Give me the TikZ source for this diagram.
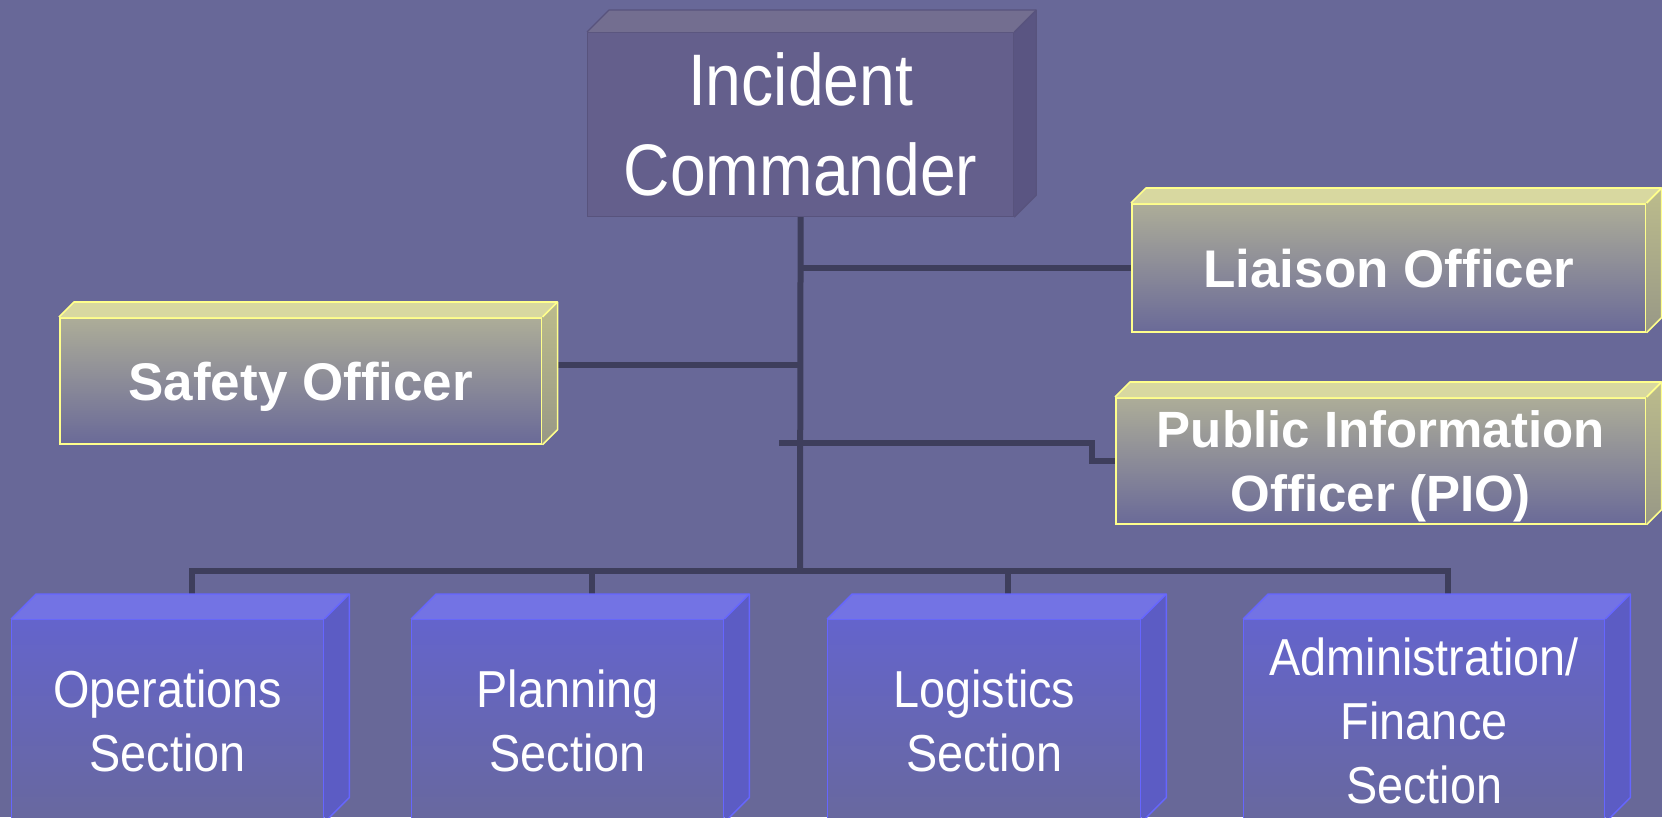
\documentclass[tikz,border=0pt]{standalone}
\usepackage{fontspec}
\setmainfont{Liberation Sans}
\newfontfamily\narrowfont[FakeStretch=0.88]{Liberation Sans}
\newfontfamily\secfont[FakeStretch=0.9]{Liberation Sans}
\pgfdeclarelayer{back}
\pgfdeclarelayer{lines}
\pgfsetlayers{back,lines,main}
\definecolor{bgc}{RGB}{104,104,152}
\definecolor{linec}{RGB}{62,62,92}
\definecolor{icfront}{RGB}{100,95,140}
\definecolor{ictop}{RGB}{115,110,144}
\definecolor{icside}{RGB}{90,85,130}
\definecolor{icborder}{RGB}{88,83,125}
\definecolor{yfronttop}{RGB}{173,173,152}
\definecolor{yfrontbot}{RGB}{106,106,152}
\definecolor{ytop}{RGB}{216,216,160}
\definecolor{ysidetop}{RGB}{188,188,140}
\definecolor{ysidebot}{RGB}{152,152,134}
\definecolor{yborder}{RGB}{255,255,140}
\definecolor{bfronttop}{RGB}{100,100,204}
\definecolor{bfrontbot}{RGB}{104,104,158}
\definecolor{btop}{RGB}{115,115,228}
\definecolor{bside}{RGB}{92,92,196}
\definecolor{bborder}{RGB}{102,102,255}
\tikzset{
  icbox/.style={rectangle, anchor=north west, inner sep=0pt, fill=icfront, draw=icborder, line width=1.2pt,
     text=white, align=center, font=\narrowfont\fontsize{73}{90}\selectfont},
  offbox/.style={rectangle, anchor=north west, inner sep=0pt, top color=yfronttop, bottom color=yfrontbot,
     draw=yborder, line width=1.6pt, text=white, align=center, text depth=0pt, font=\bfseries\fontsize{53}{62}\selectfont},
  secbox/.style={rectangle, anchor=north west, inner sep=0pt, top color=bfronttop, bottom color=bfrontbot,
     draw=bborder, line width=1.4pt, text=white, align=center, font=\secfont\fontsize{52}{64}\selectfont},
  conn/.style={draw=linec, line width=6pt},
}
% #1 node name, #2 depth (px), #3 top colour, #4 side top colour, #5 side bottom colour, #6 border colour, #7 border width
\newcommand\boxfaces[7]{%
  \fill[#3] (#1.north west) -- ++(#2,-#2) -- ([shift={(#2,-#2)}]#1.north east) -- (#1.north east) -- cycle;
  \shade[top color=#4, bottom color=#5] (#1.north east) -- ++(#2,-#2) -- ([shift={(#2,-#2)}]#1.south east) -- (#1.south east) -- cycle;
  \draw[#6, line width=#7, line join=round] (#1.north west) -- ++(#2,-#2) -- ([shift={(#2,-#2)}]#1.north east)
     -- ([shift={(#2,-#2)}]#1.south east) -- (#1.south east);
  \draw[#6, line width=#7] (#1.north east) -- ++(#2,-#2);
}
\begin{document}
\begin{tikzpicture}[x=1pt,y=-1pt]
\useasboundingbox (0,0) rectangle (1662,817);
\begin{pgfonlayer}{back}
\fill[bgc] (0,0) rectangle (1662,817);
\end{pgfonlayer}

% nodes
\node[icbox, minimum width=426pt, minimum height=184pt] (ic) at (587,32) {Incident\\Commander};
\node[offbox, minimum width=482pt, minimum height=126pt] (safety) at (59,317) {Safety Officer};
\node[offbox, minimum width=514pt, minimum height=128pt] (liaison) at (1131,203) {Liaison Officer};
\node[offbox, minimum width=530pt, minimum height=126pt, font=\bfseries\fontsize{51}{64}\selectfont] (pio) at (1115,397) {Public Information\\Officer (PIO)};
\node[secbox, minimum width=312pt, minimum height=202pt] (ops) at (11,619) {Operations\\Section};
\node[secbox, minimum width=312pt, minimum height=202pt] (plan) at (411,619) {Planning\\Section};
\node[secbox, minimum width=313pt, minimum height=202pt] (log) at (827,619) {Logistics\\Section};
\node[secbox, minimum width=361pt, minimum height=202pt] (admin) at (1243,619) {Administration/\\Finance\\Section};

\boxfaces{ic}{22}{ictop}{icside}{icside}{icborder}{1.2pt}
\boxfaces{safety}{15}{ytop}{ysidetop}{ysidebot}{yborder}{1.6pt}
\boxfaces{liaison}{15}{ytop}{ysidetop}{ysidebot}{yborder}{1.6pt}
\boxfaces{pio}{15}{ytop}{ysidetop}{ysidebot}{yborder}{1.6pt}
\boxfaces{ops}{25}{btop}{bside}{bside}{bborder}{1.4pt}
\boxfaces{plan}{25}{btop}{bside}{bside}{bborder}{1.4pt}
\boxfaces{log}{25}{btop}{bside}{bside}{bborder}{1.4pt}
\boxfaces{admin}{25}{btop}{bside}{bside}{bborder}{1.4pt}

% connectors
\coordinate (bus) at (800,571);
\coordinate (piostub) at (779,443);
\coordinate (piobend) at (1092,443);
\coordinate (safetyout) at ([yshift=16pt]safety.east);
\begin{pgfonlayer}{lines}
\draw[conn] (ic.south) -- (bus);
\draw[conn] (ic.south |- liaison.west) -- (liaison.west);
\draw[conn] (safetyout) -- (ic.south |- safetyout);
\draw[conn] (piostub) -- (piobend) -- (piobend |- pio.west) -- (pio.west);
\draw[conn] ([xshift=24pt]ops.north) |- (bus) -| ([xshift=24pt]admin.north);
\draw[conn] ([xshift=24pt]plan.north) -- ([xshift=24pt]plan.north |- bus);
\draw[conn] ([xshift=24pt]log.north) -- ([xshift=24pt]log.north |- bus);
\end{pgfonlayer}
\end{tikzpicture}
\end{document}
